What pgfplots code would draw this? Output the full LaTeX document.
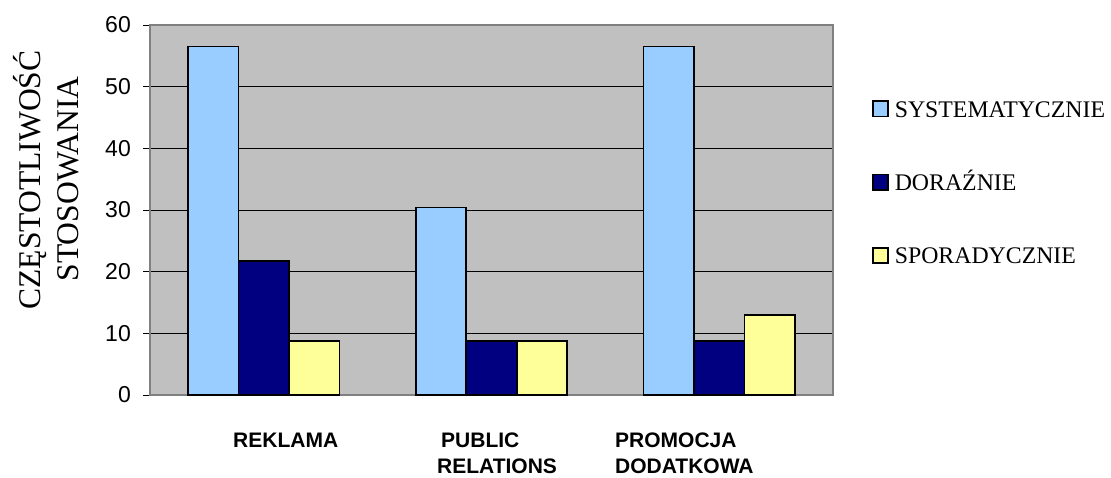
\documentclass[border=0pt]{standalone}
\usepackage{pgfplots}
\pgfplotsset{compat=1.18}
\usepackage{fontspec}
\setmainfont{Liberation Serif}
\newfontfamily\arial{Liberation Sans}

\definecolor{sysblue}{HTML}{99CCFF}
\definecolor{doranavy}{HTML}{000080}
\definecolor{sporyellow}{HTML}{FFFF99}
\definecolor{plotgray}{HTML}{C0C0C0}
\definecolor{framegray}{HTML}{808080}

\begin{document}
\begin{tikzpicture}[x=1pt,y=1pt]
\useasboundingbox (0,0) rectangle (1111,477);
\begin{axis}[
  at={(150pt,82pt)}, anchor=south west,
  scale only axis, width=683pt, height=370pt,
  xmin=-0.5, xmax=2.5, ymin=0, ymax=60,
  xtick=\empty,
  ytick={0,10,...,60}, ytick pos=left,
  tick align=outside, major tick length=7pt,
  ytick style={black, line width=0.8pt},
  yticklabel style={font=\fontsize{23}{27}\selectfont\arial, inner sep=0pt, xshift=-12pt},
  /pgf/number format/assume math mode=true,
  axis background/.style={fill=plotgray},
  axis line style={framegray, line width=1.5pt},
  ymajorgrids, grid style={black, line width=0.8pt},
  ybar=0pt, bar width=50.5pt,
  clip=false,
  legend image code/.code={\draw[#1, line width=1.8pt] (0pt,0.5pt) rectangle (15pt,16pt);},
  legend cell align=left,
  legend style={at={(1.0571,0.7973)}, anchor=north west, draw=none, fill=none,
    inner sep=0pt, outer sep=0pt, row sep=56pt,
    font=\fontsize{23.8}{28}\selectfont,
    nodes={inner sep=0pt, text height=17pt, text depth=0pt},
    /tikz/every odd column/.style={column sep=6pt},
    /tikz/every even column/.append style={yshift=8.5pt}},
]
\addplot[fill=sysblue, draw=black, line width=1.8pt] coordinates {(0,56.5) (1,30.4) (2,56.5)};
\addplot[fill=doranavy, draw=black, line width=1.8pt] coordinates {(0,21.7) (1,8.7) (2,8.7)};
\addplot[fill=sporyellow, draw=black, line width=1.8pt] coordinates {(0,8.7) (1,8.7) (2,13.0)};
\legend{SYSTEMATYCZNIE, DORAŹNIE, SPORADYCZNIE}
\end{axis}

% category names under the bars
\begin{scope}[every node/.style={anchor=base west, inner sep=0pt, font=\fontsize{21}{25}\selectfont\arial\bfseries}]
  \node at (233,30) {REKLAMA};
  \node at (441,30) {PUBLIC};
  \node at (437,4) {RELATIONS};
  \node at (615,30) {PROMOCJA};
  \node at (615,4) {DODATKOWA};
\end{scope}

% value axis title
\begin{scope}[every node/.style={anchor=base, rotate=90, inner sep=0pt, font=\fontsize{31.6}{38}\selectfont}]
  \node at (40,297) {CZĘSTOTLIWOŚĆ};
  \node at (78,298) {STOSOWANIA};
\end{scope}
\end{tikzpicture}
\end{document}
